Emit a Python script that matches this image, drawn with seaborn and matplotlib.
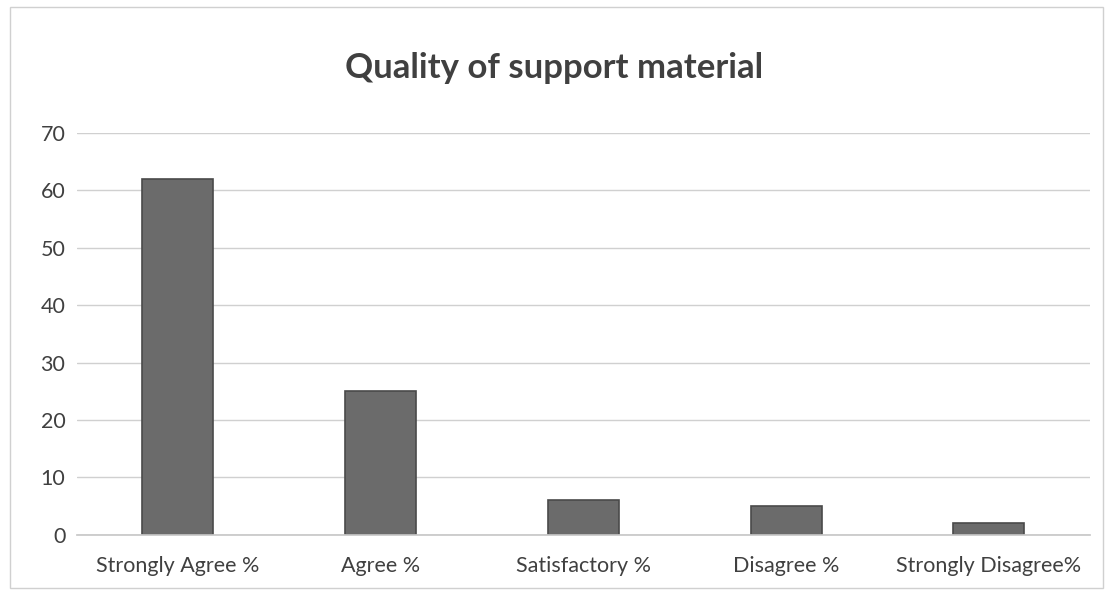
import matplotlib
matplotlib.use("Agg")
import matplotlib.pyplot as plt
import seaborn as sns
import pandas as pd

categories = ["Strongly Agree %", "Agree %", "Satisfactory %", "Disagree %", "Strongly Disagree%"]
values = [62, 25, 6, 5, 2]
y_ticks = [0, 10, 20, 30, 40, 50, 60, 70]

df = pd.DataFrame({"category": categories, "value": values})

sns.set_theme(style="white")
plt.rcParams["font.family"] = ["Lato", "DejaVu Sans"]

fig = plt.figure(figsize=(11.09, 5.93), dpi=100)
ax = fig.add_axes([0.069, 0.098, 0.914, 0.678])

sns.barplot(data=df, x="category", y="value", color="#6b6b6b",
            width=0.35, edgecolor="#4a4a4a", linewidth=1.2, ax=ax)

ax.set_ylim(0, 70)
ax.set_yticks(y_ticks)
ax.yaxis.grid(True, color="#d0d0d0", linewidth=1)
ax.set_axisbelow(True)
for side in ["top", "right", "left", "bottom"]:
    ax.spines[side].set_visible(False)
ax.spines["bottom"].set_visible(True)
ax.spines["bottom"].set_color("#c8c8c8")

ax.set_xlabel("")
ax.set_ylabel("")
ax.tick_params(axis="x", length=0, labelsize=15.5, labelcolor="#404040", pad=15)
ax.tick_params(axis="y", length=0, labelsize=15.5, labelcolor="#404040", pad=8)

fig.text(0.5, 0.885, "Quality of support material", ha="center", va="center",
         fontsize=25, fontweight="bold", color="#404040")

# outer chart frame
frame = plt.Rectangle((0.009, 0.008), 0.986, 0.98, transform=fig.transFigure,
                      fill=False, edgecolor="#d0d0d0", linewidth=1)
fig.patches.append(frame)

fig.savefig("out.png", dpi=100)
